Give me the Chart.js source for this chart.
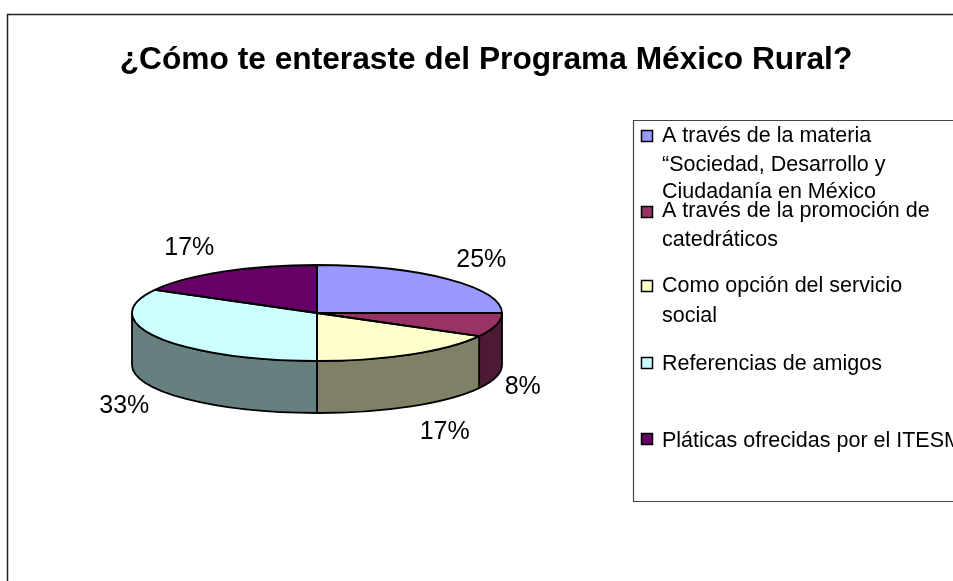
<!DOCTYPE html>
<html lang="es">
<head>
<meta charset="utf-8">
<style>html,body{margin:0;padding:0;background:#fff;overflow:hidden}canvas{display:block}</style>
<script src="https://cdn.jsdelivr.net/npm/chart.js@4"></script>
</head>
<body>
<canvas id="c" width="953" height="581"></canvas>
<script>
const titleText = "¿Cómo te enteraste del Programa México Rural?";
const categories = [
  ["A través de la materia", "“Sociedad, Desarrollo y", "Ciudadanía en México"],
  ["A través de la promoción de", "catedráticos"],
  ["Como opción del servicio", "social"],
  ["Referencias de amigos"],
  ["Pláticas ofrecidas por el ITESM"]
];
const values = [25, 8, 17, 33, 17];
const topColors = ["#9999ff", "#993366", "#ffffcc", "#ccffff", "#660066"];
const wallColors = ["#4c4c80", "#4c1a33", "#808066", "#668080", "#330033"];

const FONT = '"Liberation Sans", Arial, sans-serif';
const FLATTEN = 48 / 185, DEPTH = 52, LINE = "#000", LW = 1.8;

function ellipsePath(ctx, a, start, end, ccw, dy) {
  ctx.ellipse(a.x, a.y + dy, a.outerRadius, a.outerRadius * FLATTEN, 0, start, end, ccw);
}

const pie3d = {
  id: "pie3d",
  beforeDraw(chart) {
    const ctx = chart.ctx;
    ctx.save();
    ctx.fillStyle = "#fff";
    ctx.fillRect(0, 0, chart.width, chart.height);
    ctx.strokeStyle = "#222";
    ctx.lineWidth = 1.5;
    ctx.beginPath();
    ctx.moveTo(7.5, 581); ctx.lineTo(7.5, 14.5); ctx.lineTo(953, 14.5);
    ctx.stroke();
    ctx.strokeStyle = "#444";
    ctx.lineWidth = 1.2;
    ctx.beginPath();
    ctx.moveTo(953, 120.5); ctx.lineTo(633.5, 120.5); ctx.lineTo(633.5, 501.5); ctx.lineTo(953, 501.5);
    ctx.stroke();
    ctx.restore();
  },
  beforeDatasetsDraw(chart) {
    const ctx = chart.ctx, arcs = chart.getDatasetMeta(0).data;
    ctx.save();
    ctx.lineWidth = LW;
    ctx.strokeStyle = LINE;
    ctx.lineJoin = "round";
    arcs.forEach((a, i) => {
      let s = a.startAngle, e = a.endAngle;
      const TAU = Math.PI * 2;
      const ranges = [[0, Math.PI], [TAU, TAU + Math.PI]];
      ranges.forEach(([lo, hi]) => {
        const s1 = Math.max(s, lo), e1 = Math.min(e, hi);
        if (e1 <= s1) return;
        ctx.beginPath();
        ellipsePath(ctx, a, s1, e1, false, 0);
        ellipsePath(ctx, a, e1, s1, true, DEPTH);
        ctx.closePath();
        ctx.fillStyle = wallColors[i];
        ctx.fill();
        ctx.stroke();
      });
    });
    ctx.restore();
    const a0 = arcs[0];
    ctx.save();
    ctx.translate(a0.x, a0.y);
    ctx.scale(1, FLATTEN);
    ctx.translate(-a0.x, -a0.y);
  },
  afterDatasetsDraw(chart) {
    const ctx = chart.ctx, arcs = chart.getDatasetMeta(0).data;
    ctx.restore();
    ctx.save();
    ctx.lineWidth = LW;
    ctx.strokeStyle = LINE;
    ctx.lineJoin = "round";
    arcs.forEach(a => {
      ctx.beginPath();
      ctx.moveTo(a.x, a.y);
      ellipsePath(ctx, a, a.startAngle, a.endAngle, false, 0);
      ctx.closePath();
      ctx.stroke();
    });
    ctx.fillStyle = "#000";
    ctx.textAlign = "center";
    ctx.textBaseline = "middle";
    ctx.font = "25px " + FONT;
    arcs.forEach((a, i) => {
      const text = values[i] + "%";
      const mid = (a.startAngle + a.endAngle) / 2;
      const w = ctx.measureText(text).width;
      const sx = Math.cos(mid), sy = Math.sin(mid);
      const x = a.x + sx * a.outerRadius + Math.sign(sx) * (w / 2 + 8.5);
      const y = a.y + sy * 75 + (sy > 0 ? 55 : 0);
      ctx.fillText(text, x, y);
    });
    ctx.restore();
  },
  afterDraw(chart) {
    const ctx = chart.ctx;
    ctx.save();
    ctx.fillStyle = "#000";
    ctx.textBaseline = "middle";
    ctx.textAlign = "center";
    ctx.font = "bold 31.7px " + FONT;
    ctx.fillText(titleText, 486, 60);
    ctx.textAlign = "left";
    ctx.font = "21.5px " + FONT;
    const rowTops = [136, 211, 286, 364, 441];
    const gaps = [[0, 29, 56], [0, 29], [0, 30], [0], [0]];
    const swatches = [136, 212, 286, 363, 439];
    categories.forEach((lines, i) => {
      ctx.fillStyle = topColors[i];
      ctx.strokeStyle = "#000";
      ctx.lineWidth = 1.5;
      ctx.fillRect(641.5, swatches[i] - 5.5, 11, 11);
      ctx.strokeRect(641.5, swatches[i] - 5.5, 11, 11);
      ctx.fillStyle = "#000";
      lines.forEach((t, j) => ctx.fillText(t, 662, rowTops[i] + gaps[i][j]));
    });
    ctx.restore();
  }
};

new Chart(document.getElementById("c"), {
  type: "pie",
  data: {
    labels: categories.map(l => l.join(" ")),
    datasets: [{ data: values, backgroundColor: topColors, borderWidth: 0, clip: false }]
  },
  options: {
    responsive: false,
    animation: false,
    events: [],
    layout: { padding: { left: 132, right: 451, top: 128, bottom: 83 } },
    plugins: { legend: { display: false }, title: { display: false }, tooltip: { enabled: false } }
  },
  plugins: [pie3d]
});
</script>
</body>
</html>
